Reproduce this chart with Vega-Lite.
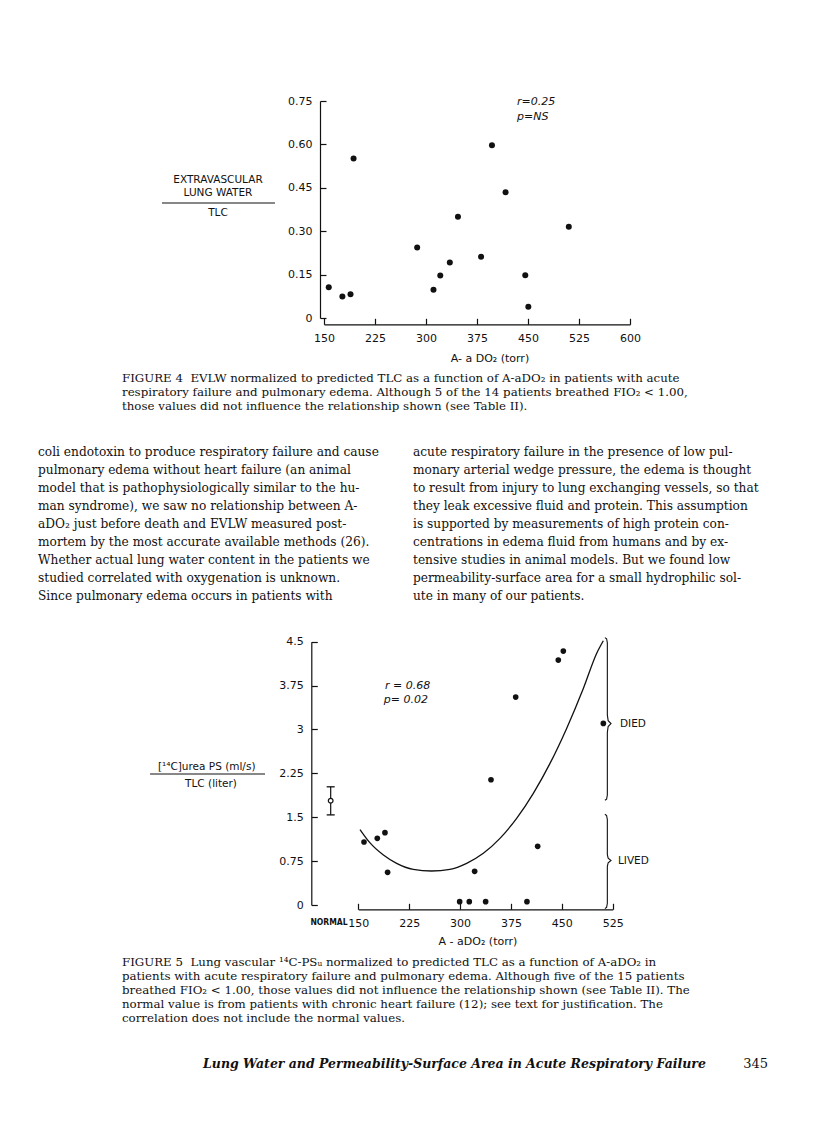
{
  "$schema": "https://vega.github.io/schema/vega-lite/v6.json",
  "width": 816,
  "height": 1141,
  "autosize": {"type": "fit", "contains": "padding"},
  "padding": 0,
  "background": "white",
  "config": {"view": {"stroke": null}, "axis": {"grid": false}},
  "datasets": {
    "fig4": [
      {"aado2": 157, "evlw": 0.106}, {"aado2": 177, "evlw": 0.074}, {"aado2": 189, "evlw": 0.082},
      {"aado2": 193.5, "evlw": 0.551}, {"aado2": 287, "evlw": 0.244}, {"aado2": 311, "evlw": 0.098},
      {"aado2": 321, "evlw": 0.147}, {"aado2": 335, "evlw": 0.192}, {"aado2": 347, "evlw": 0.35},
      {"aado2": 381, "evlw": 0.212}, {"aado2": 397, "evlw": 0.597}, {"aado2": 417, "evlw": 0.435},
      {"aado2": 446, "evlw": 0.148}, {"aado2": 450.5, "evlw": 0.039}, {"aado2": 510, "evlw": 0.315}
    ],
    "fig5": [
      {"aado2": 158.4, "ps": 1.076}, {"aado2": 178, "ps": 1.139}, {"aado2": 189.3, "ps": 1.236},
      {"aado2": 193.2, "ps": 0.558}, {"aado2": 299.4, "ps": 0.057}, {"aado2": 313.6, "ps": 0.057},
      {"aado2": 321.5, "ps": 0.575}, {"aado2": 337.7, "ps": 0.057}, {"aado2": 345.6, "ps": 2.141},
      {"aado2": 382, "ps": 3.553}, {"aado2": 398.6, "ps": 0.057}, {"aado2": 414.4, "ps": 1.002},
      {"aado2": 444.8, "ps": 4.186}, {"aado2": 452.2, "ps": 4.339}, {"aado2": 511.2, "ps": 3.104}
    ],
    "curve": [
      {"aado2": 152.5, "ps": 1.29}, {"aado2": 167, "ps": 1.065}, {"aado2": 187, "ps": 0.854},
      {"aado2": 206.5, "ps": 0.712}, {"aado2": 231, "ps": 0.609}, {"aado2": 258, "ps": 0.581},
      {"aado2": 285, "ps": 0.609}, {"aado2": 309.7, "ps": 0.712}, {"aado2": 334.3, "ps": 0.883},
      {"aado2": 358.8, "ps": 1.139}, {"aado2": 383.4, "ps": 1.48}, {"aado2": 408, "ps": 1.908},
      {"aado2": 432.6, "ps": 2.42}, {"aado2": 457.1, "ps": 3.018}, {"aado2": 481.7, "ps": 3.7},
      {"aado2": 501.3, "ps": 4.3}, {"aado2": 511.2, "ps": 4.516}
    ],
    "normal": [{"aado2": 109.3, "ps": 1.783, "lo": 1.54, "hi": 2.02}],
    "braces": [
      {"b": "died", "i": 1, "aado2": 513.5, "ps": 4.57}, {"b": "died", "i": 2, "aado2": 516, "ps": 4.55},
      {"b": "died", "i": 3, "aado2": 517.1, "ps": 4.48}, {"b": "died", "i": 4, "aado2": 517.1, "ps": 3.25},
      {"b": "died", "i": 5, "aado2": 518.3, "ps": 3.15}, {"b": "died", "i": 6, "aado2": 522.5, "ps": 3.1},
      {"b": "died", "i": 7, "aado2": 518.3, "ps": 3.05}, {"b": "died", "i": 8, "aado2": 517.1, "ps": 2.95},
      {"b": "died", "i": 9, "aado2": 517.1, "ps": 1.88}, {"b": "died", "i": 10, "aado2": 516, "ps": 1.81},
      {"b": "died", "i": 11, "aado2": 513.5, "ps": 1.79},
      {"b": "lived", "i": 1, "aado2": 513.5, "ps": 1.55}, {"b": "lived", "i": 2, "aado2": 516, "ps": 1.53},
      {"b": "lived", "i": 3, "aado2": 517.1, "ps": 1.46}, {"b": "lived", "i": 4, "aado2": 517.1, "ps": 0.86},
      {"b": "lived", "i": 5, "aado2": 518.3, "ps": 0.8}, {"b": "lived", "i": 6, "aado2": 522.5, "ps": 0.76},
      {"b": "lived", "i": 7, "aado2": 518.3, "ps": 0.72}, {"b": "lived", "i": 8, "aado2": 517.1, "ps": 0.66},
      {"b": "lived", "i": 9, "aado2": 517.1, "ps": 0.03}, {"b": "lived", "i": 10, "aado2": 516, "ps": -0.04},
      {"b": "lived", "i": 11, "aado2": 513.5, "ps": -0.06}
    ],
    "caption4": [
      {"line": 1, "text": "FIGURE 4\u00a0\u00a0EVLW normalized to predicted TLC as a function of A-aDO\u2082 in patients with acute"},
      {"line": 2, "text": "respiratory failure and pulmonary edema. Although 5 of the 14 patients breathed FIO\u2082 < 1.00,"},
      {"line": 3, "text": "those values did not influence the relationship shown (see Table II)."}
    ],
    "body": [
      {"col": "left", "line": 1, "text": "coli endotoxin to produce respiratory failure and cause"},
      {"col": "left", "line": 2, "text": "pulmonary edema without heart failure (an animal"},
      {"col": "left", "line": 3, "text": "model that is pathophysiologically similar to the hu-"},
      {"col": "left", "line": 4, "text": "man syndrome), we saw no relationship between A-"},
      {"col": "left", "line": 5, "text": "aDO\u2082 just before death and EVLW measured post-"},
      {"col": "left", "line": 6, "text": "mortem by the most accurate available methods (26)."},
      {"col": "left", "line": 7, "text": "Whether actual lung water content in the patients we"},
      {"col": "left", "line": 8, "text": "studied correlated with oxygenation is unknown."},
      {"col": "left", "line": 9, "text": "\u00a0\u00a0\u00a0Since pulmonary edema occurs in patients with"},
      {"col": "right", "line": 1, "text": "acute respiratory failure in the presence of low pul-"},
      {"col": "right", "line": 2, "text": "monary arterial wedge pressure, the edema is thought"},
      {"col": "right", "line": 3, "text": "to result from injury to lung exchanging vessels, so that"},
      {"col": "right", "line": 4, "text": "they leak excessive fluid and protein. This assumption"},
      {"col": "right", "line": 5, "text": "is supported by measurements of high protein con-"},
      {"col": "right", "line": 6, "text": "centrations in edema fluid from humans and by ex-"},
      {"col": "right", "line": 7, "text": "tensive studies in animal models. But we found low"},
      {"col": "right", "line": 8, "text": "permeability-surface area for a small hydrophilic sol-"},
      {"col": "right", "line": 9, "text": "ute in many of our patients."}
    ],
    "caption5": [
      {"line": 1, "text": "FIGURE 5\u00a0\u00a0Lung vascular \u00b9\u2074C-PS\u1d64 normalized to predicted TLC as a function of A-aDO\u2082 in"},
      {"line": 2, "text": "patients with acute respiratory failure and pulmonary edema. Although five of the 15 patients"},
      {"line": 3, "text": "breathed FIO\u2082 < 1.00, those values did not influence the relationship shown (see Table II). The"},
      {"line": 4, "text": "normal value is from patients with chronic heart failure (12); see text for justification. The"},
      {"line": 5, "text": "correlation does not include the normal values."}
    ]
  },
  "layer": [
    {
      "layer": [
        {
          "data": {"name": "fig4"},
          "mark": {"type": "point", "filled": true, "color": "#111", "size": 36, "opacity": 1},
          "encoding": {
            "x": {"field": "aado2", "type": "quantitative",
              "scale": {"domain": [150, 600], "range": [324, 630], "nice": false, "zero": false},
              "axis": {"orient": "bottom", "offset": -816.7, "values": [150, 225, 300, 375, 450, 525, 600],
                "labelExpr": "'' + datum.value", "domain": true, "domainColor": "#111", "domainWidth": 1.2,
                "ticks": true, "tickSize": -6, "tickColor": "#111", "tickWidth": 1.2, "labelPadding": 14,
                "labelFont": "DejaVu Sans", "labelFontSize": 11, "labelColor": "#111", "labelFlush": false,
                "labelOverlap": false, "labelBound": false, "title": null, "grid": false}},
            "y": {"field": "evlw", "type": "quantitative",
              "scale": {"domain": [0, 0.75], "range": [318, 101], "nice": false, "zero": false},
              "axis": {"orient": "left", "offset": -320, "values": [0, 0.15, 0.3, 0.45, 0.6, 0.75],
                "labelExpr": "datum.value == 0 ? '0' : format(datum.value, '.2f')", "domain": true,
                "domainColor": "#111", "domainWidth": 1.2, "ticks": true, "tickSize": -6, "tickColor": "#111",
                "tickWidth": 1.2, "labelPadding": 14, "labelFont": "DejaVu Sans", "labelFontSize": 11,
                "labelColor": "#111", "labelFlush": false, "labelOverlap": false, "labelBound": false,
                "title": null, "grid": false}}
          }
        },
        {
          "data": {"values": [{}]},
          "mark": {"type": "text", "text": "r=0.25", "font": "DejaVu Sans", "fontStyle": "italic", "fontSize": 11, "align": "left", "baseline": "middle", "color": "#111"},
          "encoding": {
            "x": {"datum": 433.8, "type": "quantitative", "scale": {"domain": [150, 600], "range": [324, 630], "nice": false, "zero": false}},
            "y": {"datum": 0.746, "type": "quantitative", "scale": {"domain": [0, 0.75], "range": [318, 101], "nice": false, "zero": false}}
          }
        },
        {
          "data": {"values": [{}]},
          "mark": {"type": "text", "text": "p=NS", "font": "DejaVu Sans", "fontStyle": "italic", "fontSize": 11, "align": "left", "baseline": "middle", "color": "#111"},
          "encoding": {
            "x": {"datum": 433.8, "type": "quantitative", "scale": {"domain": [150, 600], "range": [324, 630], "nice": false, "zero": false}},
            "y": {"datum": 0.695, "type": "quantitative", "scale": {"domain": [0, 0.75], "range": [318, 101], "nice": false, "zero": false}}
          }
        },
        {
          "data": {"values": [{}]},
          "mark": {"type": "text", "text": ["EXTRAVASCULAR", "LUNG WATER"], "lineHeight": 13, "font": "DejaVu Sans", "fontSize": 10.5, "align": "center", "baseline": "middle", "color": "#111"},
          "encoding": {
            "x": {"datum": -5.9, "type": "quantitative", "scale": {"domain": [150, 600], "range": [324, 630], "nice": false, "zero": false}},
            "y": {"datum": 0.477, "type": "quantitative", "scale": {"domain": [0, 0.75], "range": [318, 101], "nice": false, "zero": false}}
          }
        },
        {
          "data": {"values": [{}]},
          "mark": {"type": "rule", "color": "#111", "strokeWidth": 1.1},
          "encoding": {
            "x": {"datum": -88.2, "type": "quantitative", "scale": {"domain": [150, 600], "range": [324, 630], "nice": false, "zero": false}},
            "x2": {"datum": 77.9},
            "y": {"datum": 0.3975, "type": "quantitative", "scale": {"domain": [0, 0.75], "range": [318, 101], "nice": false, "zero": false}}
          }
        },
        {
          "data": {"values": [{}]},
          "mark": {"type": "text", "text": "TLC", "font": "DejaVu Sans", "fontSize": 10.5, "align": "center", "baseline": "middle", "color": "#111"},
          "encoding": {
            "x": {"datum": -5.9, "type": "quantitative", "scale": {"domain": [150, 600], "range": [324, 630], "nice": false, "zero": false}},
            "y": {"datum": 0.363, "type": "quantitative", "scale": {"domain": [0, 0.75], "range": [318, 101], "nice": false, "zero": false}}
          }
        },
        {
          "data": {"values": [{}]},
          "mark": {"type": "text", "text": "A- a DO\u2082 (torr)", "font": "DejaVu Sans", "fontSize": 11, "align": "center", "baseline": "middle", "color": "#111"},
          "encoding": {
            "x": {"datum": 394, "type": "quantitative", "scale": {"domain": [150, 600], "range": [324, 630], "nice": false, "zero": false}},
            "y": {"datum": -0.1417, "type": "quantitative", "scale": {"domain": [0, 0.75], "range": [318, 101], "nice": false, "zero": false}}
          }
        }
      ]
    },
    {
      "layer": [
        {
          "data": {"name": "fig5"},
          "mark": {"type": "point", "filled": true, "color": "#111", "size": 32, "opacity": 1},
          "encoding": {
            "x": {"field": "aado2", "type": "quantitative",
              "scale": {"domain": [150, 525], "range": [358.3, 612.7], "nice": false, "zero": false},
              "axis": {"orient": "bottom", "offset": -231.7, "values": [150, 225, 300, 375, 450, 525],
                "labelExpr": "'' + datum.value", "domain": true, "domainColor": "#111", "domainWidth": 1.2,
                "ticks": true, "tickSize": -6, "tickColor": "#111", "tickWidth": 1.2, "labelPadding": 14,
                "labelFont": "DejaVu Sans", "labelFontSize": 11, "labelColor": "#111", "labelFlush": false,
                "labelOverlap": false, "labelBound": false, "title": null, "grid": false}},
            "y": {"field": "ps", "type": "quantitative",
              "scale": {"domain": [0, 4.5], "range": [905, 641.7], "nice": false, "zero": false},
              "axis": {"orient": "left", "offset": -311.3, "values": [0, 0.75, 1.5, 2.25, 3, 3.75, 4.5],
                "labelExpr": "'' + datum.value", "domain": true, "domainColor": "#111", "domainWidth": 1.2,
                "ticks": true, "tickSize": -6, "tickColor": "#111", "tickWidth": 1.2, "labelPadding": 14,
                "labelFont": "DejaVu Sans", "labelFontSize": 11, "labelColor": "#111", "labelFlush": false,
                "labelOverlap": false, "labelBound": false, "title": null, "grid": false}}
          }
        },
        {
          "data": {"name": "curve"},
          "mark": {"type": "line", "color": "#111", "strokeWidth": 1.3, "interpolate": "monotone"},
          "encoding": {
            "x": {"field": "aado2", "type": "quantitative", "scale": {"domain": [150, 525], "range": [358.3, 612.7], "nice": false, "zero": false}},
            "y": {"field": "ps", "type": "quantitative", "scale": {"domain": [0, 4.5], "range": [905, 641.7], "nice": false, "zero": false}}
          }
        },
        {
          "data": {"name": "braces"},
          "mark": {"type": "line", "color": "#111", "strokeWidth": 1.1},
          "encoding": {
            "x": {"field": "aado2", "type": "quantitative", "scale": {"domain": [150, 525], "range": [358.3, 612.7], "nice": false, "zero": false}},
            "y": {"field": "ps", "type": "quantitative", "scale": {"domain": [0, 4.5], "range": [905, 641.7], "nice": false, "zero": false}},
            "detail": {"field": "b", "type": "nominal"},
            "order": {"field": "i", "type": "quantitative"}
          }
        },
        {
          "data": {"name": "normal"},
          "mark": {"type": "rule", "color": "#111", "strokeWidth": 1.2},
          "encoding": {
            "x": {"field": "aado2", "type": "quantitative", "scale": {"domain": [150, 525], "range": [358.3, 612.7], "nice": false, "zero": false}},
            "y": {"field": "lo", "type": "quantitative", "scale": {"domain": [0, 4.5], "range": [905, 641.7], "nice": false, "zero": false}},
            "y2": {"field": "hi"}
          }
        },
        {
          "data": {"name": "normal"},
          "mark": {"type": "tick", "orient": "horizontal", "size": 8, "thickness": 1.3, "color": "#111", "opacity": 1},
          "encoding": {
            "x": {"field": "aado2", "type": "quantitative", "scale": {"domain": [150, 525], "range": [358.3, 612.7], "nice": false, "zero": false}},
            "y": {"field": "lo", "type": "quantitative", "scale": {"domain": [0, 4.5], "range": [905, 641.7], "nice": false, "zero": false}}
          }
        },
        {
          "data": {"name": "normal"},
          "mark": {"type": "tick", "orient": "horizontal", "size": 8, "thickness": 1.3, "color": "#111", "opacity": 1},
          "encoding": {
            "x": {"field": "aado2", "type": "quantitative", "scale": {"domain": [150, 525], "range": [358.3, 612.7], "nice": false, "zero": false}},
            "y": {"field": "hi", "type": "quantitative", "scale": {"domain": [0, 4.5], "range": [905, 641.7], "nice": false, "zero": false}}
          }
        },
        {
          "data": {"name": "normal"},
          "mark": {"type": "point", "filled": true, "fill": "white", "stroke": "#111", "strokeWidth": 1.2, "size": 22, "opacity": 1},
          "encoding": {
            "x": {"field": "aado2", "type": "quantitative", "scale": {"domain": [150, 525], "range": [358.3, 612.7], "nice": false, "zero": false}},
            "y": {"field": "ps", "type": "quantitative", "scale": {"domain": [0, 4.5], "range": [905, 641.7], "nice": false, "zero": false}}
          }
        },
        {
          "data": {"values": [{}]},
          "mark": {"type": "text", "text": "r = 0.68", "font": "DejaVu Sans", "fontStyle": "italic", "fontSize": 11, "align": "left", "baseline": "middle", "color": "#111"},
          "encoding": {
            "x": {"datum": 189.4, "type": "quantitative", "scale": {"domain": [150, 525], "range": [358.3, 612.7], "nice": false, "zero": false}},
            "y": {"datum": 3.743, "type": "quantitative", "scale": {"domain": [0, 4.5], "range": [905, 641.7], "nice": false, "zero": false}}
          }
        },
        {
          "data": {"values": [{}]},
          "mark": {"type": "text", "text": "p= 0.02", "font": "DejaVu Sans", "fontStyle": "italic", "fontSize": 11, "align": "left", "baseline": "middle", "color": "#111"},
          "encoding": {
            "x": {"datum": 187.5, "type": "quantitative", "scale": {"domain": [150, 525], "range": [358.3, 612.7], "nice": false, "zero": false}},
            "y": {"datum": 3.504, "type": "quantitative", "scale": {"domain": [0, 4.5], "range": [905, 641.7], "nice": false, "zero": false}}
          }
        },
        {
          "data": {"values": [{}]},
          "mark": {"type": "text", "text": "[\u00b9\u2074C]urea PS (ml/s)", "font": "DejaVu Sans", "fontSize": 10.5, "align": "center", "baseline": "middle", "color": "#111"},
          "encoding": {
            "x": {"datum": -73.5, "type": "quantitative", "scale": {"domain": [150, 525], "range": [358.3, 612.7], "nice": false, "zero": false}},
            "y": {"datum": 2.364, "type": "quantitative", "scale": {"domain": [0, 4.5], "range": [905, 641.7], "nice": false, "zero": false}}
          }
        },
        {
          "data": {"values": [{}]},
          "mark": {"type": "rule", "color": "#111", "strokeWidth": 1.1},
          "encoding": {
            "x": {"datum": -157, "type": "quantitative", "scale": {"domain": [150, 525], "range": [358.3, 612.7], "nice": false, "zero": false}},
            "x2": {"datum": 12.5},
            "y": {"datum": 2.239, "type": "quantitative", "scale": {"domain": [0, 4.5], "range": [905, 641.7], "nice": false, "zero": false}}
          }
        },
        {
          "data": {"values": [{}]},
          "mark": {"type": "text", "text": "TLC (liter)", "font": "DejaVu Sans", "fontSize": 10.5, "align": "center", "baseline": "middle", "color": "#111"},
          "encoding": {
            "x": {"datum": -67.1, "type": "quantitative", "scale": {"domain": [150, 525], "range": [358.3, 612.7], "nice": false, "zero": false}},
            "y": {"datum": 2.068, "type": "quantitative", "scale": {"domain": [0, 4.5], "range": [905, 641.7], "nice": false, "zero": false}}
          }
        },
        {
          "data": {"values": [{}]},
          "mark": {"type": "text", "text": "NORMAL", "font": "DejaVu Sans Condensed", "fontWeight": "bold", "fontSize": 8.5, "align": "center", "baseline": "middle", "color": "#111"},
          "encoding": {
            "x": {"datum": 106.8, "type": "quantitative", "scale": {"domain": [150, 525], "range": [358.3, 612.7], "nice": false, "zero": false}},
            "y": {"datum": -0.285, "type": "quantitative", "scale": {"domain": [0, 4.5], "range": [905, 641.7], "nice": false, "zero": false}}
          }
        },
        {
          "data": {"values": [{}]},
          "mark": {"type": "text", "text": "DIED", "font": "DejaVu Sans", "fontSize": 10.5, "align": "left", "baseline": "middle", "color": "#111"},
          "encoding": {
            "x": {"datum": 535.8, "type": "quantitative", "scale": {"domain": [150, 525], "range": [358.3, 612.7], "nice": false, "zero": false}},
            "y": {"datum": 3.093, "type": "quantitative", "scale": {"domain": [0, 4.5], "range": [905, 641.7], "nice": false, "zero": false}}
          }
        },
        {
          "data": {"values": [{}]},
          "mark": {"type": "text", "text": "LIVED", "font": "DejaVu Sans", "fontSize": 10.5, "align": "left", "baseline": "middle", "color": "#111"},
          "encoding": {
            "x": {"datum": 532.8, "type": "quantitative", "scale": {"domain": [150, 525], "range": [358.3, 612.7], "nice": false, "zero": false}},
            "y": {"datum": 0.757, "type": "quantitative", "scale": {"domain": [0, 4.5], "range": [905, 641.7], "nice": false, "zero": false}}
          }
        },
        {
          "data": {"values": [{}]},
          "mark": {"type": "text", "text": "A - aDO\u2082 (torr)", "font": "DejaVu Sans", "fontSize": 11, "align": "center", "baseline": "middle", "color": "#111"},
          "encoding": {
            "x": {"datum": 326.4, "type": "quantitative", "scale": {"domain": [150, 525], "range": [358.3, 612.7], "nice": false, "zero": false}},
            "y": {"datum": -0.627, "type": "quantitative", "scale": {"domain": [0, 4.5], "range": [905, 641.7], "nice": false, "zero": false}}
          }
        }
      ]
    },
    {
      "data": {"name": "caption4"},
      "mark": {"type": "text", "font": "DejaVu Serif", "fontSize": 11.8, "align": "left", "baseline": "middle", "color": "#111"},
      "encoding": {
        "x": {"datum": 0, "type": "quantitative", "scale": {"domain": [0, 1], "range": [122, 680]}, "axis": null},
        "y": {"field": "line", "type": "quantitative", "scale": {"domain": [1, 3], "range": [378, 406], "nice": false, "zero": false}, "axis": null},
        "text": {"field": "text"}
      }
    },
    {
      "data": {"name": "body"},
      "mark": {"type": "text", "font": "DejaVu Serif", "fontSize": 12.2, "align": "left", "baseline": "middle", "color": "#111"},
      "encoding": {
        "x": {"field": "col", "type": "nominal", "bandPosition": 0, "scale": {"type": "band", "domain": ["left", "right"], "range": [38, 788], "paddingInner": 0, "paddingOuter": 0}, "axis": null},
        "y": {"field": "line", "type": "quantitative", "scale": {"domain": [1, 9], "range": [452, 596], "nice": false, "zero": false}, "axis": null},
        "text": {"field": "text"}
      }
    },
    {
      "data": {"name": "caption5"},
      "mark": {"type": "text", "font": "DejaVu Serif", "fontSize": 11.8, "align": "left", "baseline": "middle", "color": "#111"},
      "encoding": {
        "x": {"datum": 0, "type": "quantitative", "scale": {"domain": [0, 1], "range": [122, 680]}, "axis": null},
        "y": {"field": "line", "type": "quantitative", "scale": {"domain": [1, 5], "range": [962, 1018], "nice": false, "zero": false}, "axis": null},
        "text": {"field": "text"}
      }
    },
    {
      "data": {"values": [{}]},
      "mark": {"type": "text", "text": "Lung Water and Permeability-Surface Area in Acute Respiratory Failure", "font": "DejaVu Serif", "fontStyle": "italic", "fontWeight": "bold", "fontSize": 12.5, "align": "left", "baseline": "middle", "color": "#111"},
      "encoding": {
        "x": {"datum": 0, "type": "quantitative", "scale": {"domain": [0, 1], "range": [203, 700]}, "axis": null},
        "y": {"datum": 0, "type": "quantitative", "scale": {"domain": [0, 1], "range": [1064, 1080]}, "axis": null}
      }
    },
    {
      "data": {"values": [{}]},
      "mark": {"type": "text", "text": "345", "font": "DejaVu Serif", "fontSize": 13, "align": "right", "baseline": "middle", "color": "#111"},
      "encoding": {
        "x": {"datum": 0, "type": "quantitative", "scale": {"domain": [0, 1], "range": [768, 790]}, "axis": null},
        "y": {"datum": 0, "type": "quantitative", "scale": {"domain": [0, 1], "range": [1064, 1080]}, "axis": null}
      }
    }
  ],
  "resolve": {"scale": {"x": "independent", "y": "independent"}, "axis": {"x": "independent", "y": "independent"}}
}
